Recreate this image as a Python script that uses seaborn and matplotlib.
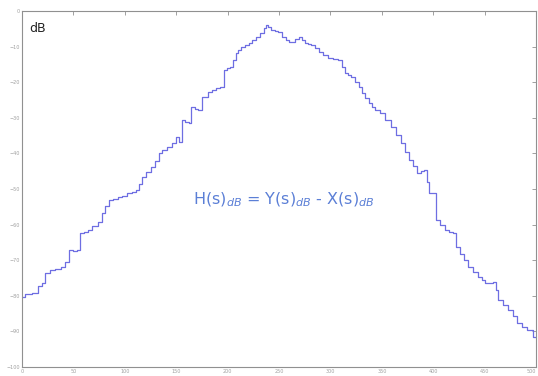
import matplotlib
matplotlib.use("Agg")
import matplotlib.pyplot as plt
import seaborn as sns
import pandas as pd

freq = [0, 6, 13, 18, 20, 25, 30, 35, 40, 44, 47, 52, 55, 58, 62, 66, 71, 76, 79, 83, 86,
        91, 95, 100, 105, 109, 112, 115, 118, 123, 127, 132, 134, 139, 144, 148, 151, 154,
        157, 161, 163, 166, 170, 173, 178, 183, 186, 191, 195, 198, 201, 204, 207, 209, 212,
        215, 219, 222, 226, 229, 234, 236, 238, 241, 244, 248, 251, 255, 258, 261, 264, 268,
        270, 274, 277, 280, 283, 287, 290, 295, 300, 305, 309, 313, 316, 319, 322, 326, 329,
        332, 336, 339, 341, 346, 351, 356, 361, 366, 371, 375, 378, 382, 387, 390, 392, 395,
        397, 400, 402, 404, 409, 413, 417, 421, 424, 428, 432, 436, 441, 446, 449, 452, 456,
        460, 462, 465, 470, 475, 480, 484, 489, 494, 500]
gain_db = [-80.3, -79.5, -79.2, -77.2, -76.4, -73.6, -72.8, -72.5, -71.9, -70.5, -67.1,
           -67.4, -67.1, -62.4, -62.1, -61.5, -60.4, -59.3, -56.7, -54.8, -53.1, -52.8, -52.3,
           -52.0, -51.1, -50.8, -50.3, -48.6, -46.6, -45.2, -43.8, -42.1, -39.9, -39.0, -38.2,
           -37.1, -35.4, -36.8, -30.6, -31.2, -31.5, -27.0, -27.5, -27.8, -24.2, -22.8, -22.2,
           -21.6, -21.3, -16.6, -16.0, -15.7, -13.8, -11.8, -11.0, -10.1, -9.6, -9.0, -8.1,
           -7.3, -6.2, -4.8, -3.9, -4.5, -5.3, -5.6, -5.9, -7.3, -8.1, -8.7, -8.7, -7.9, -7.3,
           -8.1, -9.0, -9.3, -9.6, -10.4, -11.5, -12.4, -13.2, -13.5, -13.8, -15.7, -17.4,
           -18.0, -18.5, -19.9, -21.3, -23.0, -24.4, -25.8, -27.0, -27.8, -28.7, -30.6, -32.6,
           -34.8, -37.1, -39.6, -41.9, -43.5, -45.5, -44.9, -44.7, -48.0, -51.1, -51.1, -51.1,
           -58.7, -60.1, -61.5, -62.1, -62.4, -66.3, -68.3, -69.9, -71.9, -73.3, -74.7, -75.6,
           -76.4, -76.4, -76.1, -78.4, -81.2, -82.6, -84.0, -85.7, -87.6, -88.8, -89.6, -91.6]
x_ticks = [0, 50, 100, 150, 200, 250, 300, 350, 400, 450, 500]
y_ticks = [0, -10, -20, -30, -40, -50, -60, -70, -80, -90, -100]

df = pd.DataFrame({"freq": freq, "gain": gain_db})

sns.set_style("white")
fig = plt.figure(figsize=(5.38, 3.76), dpi=100)
ax = fig.add_axes([22 / 538, 9 / 376, 514 / 538, 356 / 376])
sns.lineplot(data=df, x="freq", y="gain", ax=ax, color="#6e6ee2", linewidth=0.9,
             drawstyle="steps-mid")
ax.set_xlim(0, 500)
ax.set_ylim(-100, 0)
ax.set_xticks(x_ticks)
ax.set_yticks(y_ticks)
ax.set_xlabel("")
ax.set_ylabel("")
ax.tick_params(axis="both", labelsize=3.5, labelcolor="#a0a0a0", color="#909090",
               direction="in", length=3, width=0.6, pad=1.5,
               top=True, right=True)
ax.get_xticklabels()[-1].set_horizontalalignment("right")
for s in ax.spines.values():
    s.set_color("#909090")
    s.set_linewidth(0.8)
ax.text(0.015, 0.97, "dB", transform=ax.transAxes, fontsize=9, color="#222222",
        va="top", ha="left")
ax.text(0.51, 0.47, r"H(s)$_{dB}$ = Y(s)$_{dB}$ - X(s)$_{dB}$", transform=ax.transAxes,
        fontsize=11.5, color="#5b7fd6", ha="center", va="center")
fig.savefig("out.png", dpi=100)
